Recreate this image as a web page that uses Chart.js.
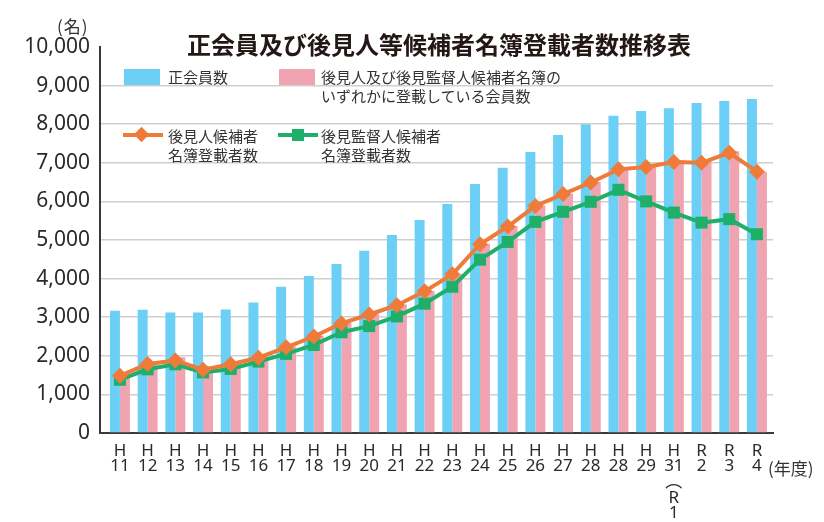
<!DOCTYPE html>
<html>
<head>
<meta charset="utf-8">
<script src="https://cdn.jsdelivr.net/npm/chart.js@4.4.1/dist/chart.umd.min.js"></script>
<style>
body { margin: 0; background: #fff; }
#wrap { position: relative; width: 824px; height: 522px; font-family: 'Noto Sans CJK JP', 'Noto Sans', sans-serif; color: #333; }
#wrap canvas { position: absolute; left: 0; top: 0; }
.t { position: absolute; white-space: nowrap; }
.sw { position: absolute; width: 36px; height: 16px; }
.ln { position: absolute; width: 40px; height: 4px; }
</style>
</head>
<body>
<div id="wrap">
	<canvas id="chart" width="824" height="522"></canvas>
	<div class="t" style="left:187px; top:26px; font-size:24px; font-weight:bold; color:#231815;">正会員及び後見人等候補者名簿登載者数推移表</div>
	<div class="t" style="left:57px; top:13px; font-size:17px; letter-spacing:1px;">(名)</div>
	<div class="t" style="left:768px; top:455px; font-size:17px;">(年度)</div>

	<div class="sw" style="left:124px; top:69px; background:#6ccff6;"></div>
	<div class="t" style="left:168px; top:66px; font-size:15px;">正会員数</div>
	<div class="sw" style="left:279px; top:69px; background:#f0a3b1;"></div>
	<div class="t" style="left:321px; top:67px; font-size:15px; line-height:19px;">後見人及び後見監督人候補者名簿の<br>いずれかに登載している会員数</div>

	<div class="ln" style="left:123px; top:133px; background:#ef7b3a;"></div>
	<div style="position:absolute; left:136px; top:129px; width:11px; height:11px; background:#ef7b3a; transform:rotate(45deg);"></div>
	<div class="t" style="left:168px; top:126px; font-size:15px; line-height:19px;">後見人候補者<br>名簿登載者数</div>
	<div class="ln" style="left:278px; top:133px; background:#1eb06a;"></div>
	<div style="position:absolute; left:292px; top:129px; width:12px; height:12px; background:#1eb06a;"></div>
	<div class="t" style="left:321px; top:126px; font-size:15px; line-height:19px;">後見監督人候補者<br>名簿登載者数</div>
</div>
<script>

// 年度ラベル (H28 は原図のまま2回)
const xLabels = [
	["H","11"],["H","12"],["H","13"],["H","14"],["H","15"],["H","16"],
	["H","17"],["H","18"],["H","19"],["H","20"],["H","21"],["H","22"],
	["H","23"],["H","24"],["H","25"],["H","26"],["H","27"],["H","28"],
	["H","28"],["H","29"],["H","31","︵","R","1"],["R","2"],["R","3"],["R","4"]
];

// 正会員数
const members = [3170,3195,3120,3120,3200,3380,3790,4070,4380,4720,5130,5520,
	5930,6450,6870,7280,7720,8000,8220,8340,8410,8550,8600,8650];

// 後見人及び後見監督人候補者名簿のいずれかに登載している会員数
const listedMembers = [1500,1830,1960,1680,1800,1980,2240,2520,2860,3090,3330,3680,
	4120,4900,5360,5900,6200,6500,6850,6900,7060,7060,7300,6770];

// 後見人候補者名簿登載者数
const guardianList = [1480,1790,1880,1640,1780,1950,2220,2500,2840,3070,3310,3670,
	4110,4890,5350,5880,6190,6490,6830,6890,7020,7000,7260,6770];

// 後見監督人候補者名簿登載者数
const supervisorList = [1380,1650,1780,1570,1660,1850,2050,2280,2610,2770,3020,3350,
	3790,4490,4950,5470,5730,5990,6300,6000,5710,5450,5540,5150];

function pts(arr) {
	return arr.map((v, i) => ({x: i, y: v}));
}

let ctx = document.getElementById('chart');
new Chart(ctx, {
	type: 'bar',
	data: {
		datasets: [
			{ type: 'line', label: '後見人候補者名簿登載者数', data: pts(guardianList), order: 0,
			  borderColor: '#ef7b3a', borderWidth: 4, pointStyle: 'rectRot', pointRadius: 8,
			  pointBackgroundColor: '#ef7b3a', pointBorderWidth: 0, tension: 0 },
			{ type: 'line', label: '後見監督人候補者名簿登載者数', data: pts(supervisorList), order: 1,
			  borderColor: '#1eb06a', borderWidth: 4, pointStyle: 'rect', pointRadius: 8.5,
			  pointBackgroundColor: '#1eb06a', pointBorderWidth: 0, tension: 0 },
			{ label: '正会員数', data: pts(members), order: 2, backgroundColor: '#6ccff6',
			  barPercentage: 1, categoryPercentage: 0.72 },
			{ label: 'いずれかに登載している会員数', data: pts(listedMembers), order: 2, backgroundColor: '#f0a3b1',
			  barPercentage: 1, categoryPercentage: 0.72 }
		]
	},
	options: {
		responsive: false,
		animation: false,
		layout: { padding: { left: 0, right: 51, top: 47, bottom: 0 } },
		plugins: { legend: { display: false }, tooltip: { enabled: false } },
		scales: {
			x: {
				type: 'linear',
				offset: false,
				min: -0.72,
				max: 23.58,
				afterBuildTicks: function (s) { s.ticks = xLabels.map((l, i) => ({value: i})); },
				afterFit: function (s) { s.height = 89; },
				grid: { display: false, drawTicks: false, offset: false },
				border: { display: true, color: '#3a3a3a', width: 2 },
				ticks: {
					autoSkip: false, maxRotation: 0, minRotation: 0, padding: 10,
					color: '#2a2a2a',
					font: { family: "'Noto Sans', 'Noto Sans CJK JP'", size: 17, lineHeight: 0.92 },
					callback: function (v) { return xLabels[v]; }
				}
			},
			y: {
				min: 0,
				max: 10000,
				afterFit: function (s) { s.width = 100; },
				grid: {
					drawTicks: false,
					lineWidth: 1.5,
					color: function (c) { return c.tick && c.tick.value === 10000 ? 'rgba(0,0,0,0)' : '#cfcfcf'; }
				},
				border: { display: true, color: '#3a3a3a', width: 2 },
				ticks: {
					stepSize: 1000, padding: 10, color: '#2a2a2a',
					font: { family: "'Noto Sans'", size: 21 },
					callback: function (v) { return v.toLocaleString('en-US'); }
				}
			}
		}
	}
});

</script>
</body>
</html>
